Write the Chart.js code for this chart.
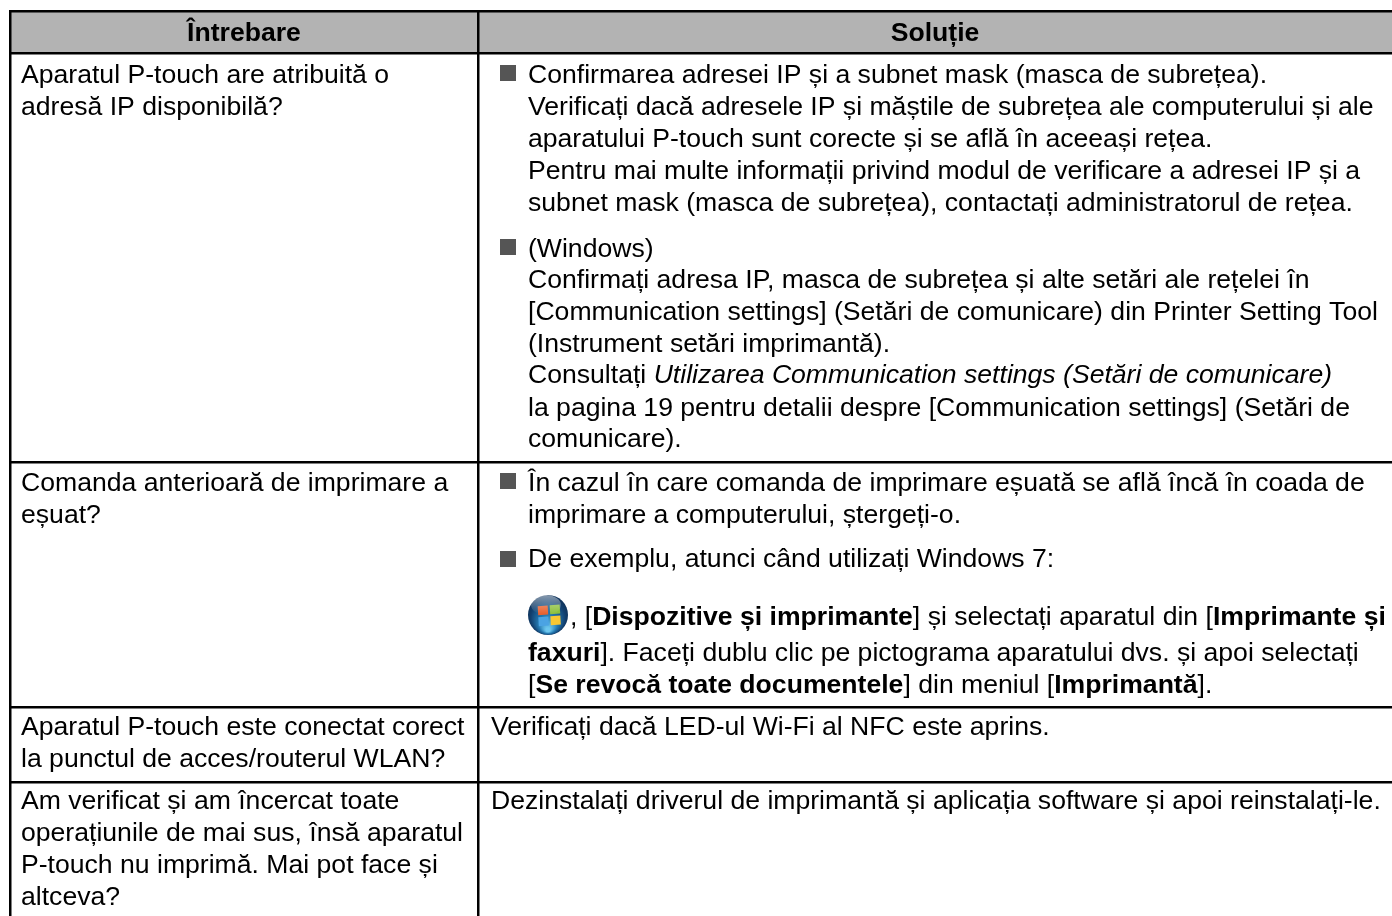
<!DOCTYPE html>
<html lang="ro">

<head>
    <meta charset="UTF-8">
    <title>Întrebare / Soluție</title>
    <style>
        html, body { margin: 0; padding: 0; background: #fff; overflow: hidden; }
        canvas { display: block; }
    </style>
</head>

<body>
    <canvas id="tableChart" width="1392" height="916"></canvas>

    <script src="https://cdn.jsdelivr.net/npm/chart.js@4/dist/chart.umd.min.js" charset="UTF-8"></script>
    <script>
        // table rules
        const columnEdges = [10, 478];
        const rowEdges = [11, 53, 462, 707, 782];

        const headers = ["Întrebare", "Soluție"];
        const headerX = [244, 935];
        const headerY = [41, 41];

        const questionLines = [
            "Aparatul P-touch are atribuită o",
            "adresă IP disponibilă?",
            "Comanda anterioară de imprimare a",
            "eșuat?",
            "Aparatul P-touch este conectat corect",
            "la punctul de acces/routerul WLAN?",
            "Am verificat și am încercat toate",
            "operațiunile de mai sus, însă aparatul",
            "P-touch nu imprimă. Mai pot face și",
            "altceva?"
        ];
        const questionY = [83, 115, 491, 523, 735, 767, 809, 841, 873, 905];

        // ** = bold, _ = italic
        const solutionLines = [
            "Confirmarea adresei IP și a subnet mask (masca de subrețea).",
            "Verificați dacă adresele IP și măștile de subrețea ale computerului și ale",
            "aparatului P-touch sunt corecte și se află în aceeași rețea.",
            "Pentru mai multe informații privind modul de verificare a adresei IP și a",
            "subnet mask (masca de subrețea), contactați administratorul de rețea.",
            "(Windows)",
            "Confirmați adresa IP, masca de subrețea și alte setări ale rețelei în",
            "[Communication settings] (Setări de comunicare) din Printer Setting Tool",
            "(Instrument setări imprimantă).",
            "Consultați _Utilizarea Communication settings (Setări de comunicare)_",
            "la pagina 19 pentru detalii despre [Communication settings] (Setări de",
            "comunicare).",
            "În cazul în care comanda de imprimare eșuată se află încă în coada de",
            "imprimare a computerului, ștergeți-o.",
            "De exemplu, atunci când utilizați Windows 7:",
            ", [**Dispozitive și imprimante**] și selectați aparatul din [**Imprimante și**",
            "**faxuri**]. Faceți dublu clic pe pictograma aparatului dvs. și apoi selectați",
            "[**Se revocă toate documentele**] din meniul [**Imprimantă**].",
            "Verificați dacă LED-ul Wi-Fi al NFC este aprins.",
            "Dezinstalați driverul de imprimantă și aplicația software și apoi reinstalați-le."
        ];
        const solutionX = [528, 528, 528, 528, 528, 528, 528, 528, 528, 528, 528, 528, 528, 528, 528, 570, 528, 528, 491, 491];
        const solutionY = [83, 115, 147, 179, 211, 257, 288, 320, 352, 383, 416, 447, 491, 523, 567, 625, 661, 693, 735, 809];

        const bulletX = [508, 508, 508, 508];
        const bulletY = [73, 247, 481, 559];
        const iconX = [548];
        const iconY = [615];
        const headerBandX = [10, 1392];
        const headerBandY = [53, 53];

        const bodyFont = '"Liberation Sans", Arial, sans-serif';
        const bodySize = 26.6;

        function makeOrb() {
            const c = document.createElement('canvas');
            c.width = 42;
            c.height = 42;
            const g = c.getContext('2d');
            const body = g.createRadialGradient(21, 36, 2, 21, 21, 21);
            body.addColorStop(0, '#6cc6ee');
            body.addColorStop(0.4, '#2378b0');
            body.addColorStop(0.8, '#12406f');
            body.addColorStop(1, '#0f3157');
            g.fillStyle = body;
            g.beginPath();
            g.arc(21, 21, 20, 0, Math.PI * 2);
            g.fill();
            // the four flag panes, slightly skewed
            g.save();
            g.transform(1, -0.08, 0.06, 1, 0, 2);
            const panes = [
                ['#e8612f', 10, 11, 10, 9],
                ['#8cc13c', 22, 11, 10, 9],
                ['#4ba3e3', 10, 22, 10, 9],
                ['#f7c733', 22, 22, 10, 9]
            ];
            panes.forEach(p => {
                g.fillStyle = p[0];
                g.fillRect(p[1], p[2], p[3], p[4]);
            });
            g.restore();
            const shine = g.createLinearGradient(0, 1, 0, 20);
            shine.addColorStop(0, 'rgba(255,255,255,0.5)');
            shine.addColorStop(1, 'rgba(255,255,255,0)');
            g.fillStyle = shine;
            g.beginPath();
            g.ellipse(19, 11, 15, 10, 0, 0, Math.PI * 2);
            g.fill();
            return c;
        }

        function drawRuns(ctx, line, x, y) {
            // split the line into plain / bold / italic pieces
            const parts = line.split(/(\*\*.*?\*\*|_.*?_)/).filter(s => s.length);
            let cx = x;
            parts.forEach(p => {
                let style = '';
                let s = p;
                if (p.startsWith('**')) { style = 'bold '; s = p.slice(2, -2); }
                else if (p.startsWith('_')) { style = 'italic '; s = p.slice(1, -1); }
                ctx.font = style + bodySize + 'px ' + bodyFont;
                ctx.fillText(s, cx, y);
                cx += ctx.measureText(s).width;
            });
        }

        const tableText = {
            id: 'tableText',
            afterDraw(chart) {
                const ctx = chart.ctx;
                const sx = chart.scales.x;
                const sy = chart.scales.y;
                ctx.save();
                ctx.fillStyle = '#000';
                ctx.textBaseline = 'alphabetic';
                ctx.textAlign = 'center';
                ctx.font = 'bold ' + bodySize + 'px ' + bodyFont;
                headers.forEach((h, i) => {
                    ctx.fillText(h, sx.getPixelForValue(headerX[i]), sy.getPixelForValue(headerY[i]));
                });
                ctx.textAlign = 'left';
                questionLines.forEach((t, i) => {
                    drawRuns(ctx, t, sx.getPixelForValue(21), sy.getPixelForValue(questionY[i]));
                });
                solutionLines.forEach((t, i) => {
                    drawRuns(ctx, t, sx.getPixelForValue(solutionX[i]), sy.getPixelForValue(solutionY[i]));
                });
                ctx.restore();
            }
        };

        const gridStyle = { color: '#000', lineWidth: 2.5, drawTicks: false, z: 1 };

        var ctx = document.getElementById('tableChart').getContext('2d');
        var tableChart = new Chart(ctx, {
            type: 'scatter',
            data: {
                datasets: [{
                    // grey header band
                    type: 'line',
                    data: headerBandX.map((x, i) => ({ x: x, y: headerBandY[i] })),
                    fill: { value: rowEdges[0] },
                    backgroundColor: '#b3b3b3',
                    borderWidth: 0,
                    pointRadius: 0
                }, {
                    data: bulletX.map((x, i) => ({ x: x, y: bulletY[i] })),
                    pointStyle: 'rect',
                    radius: 11.3,
                    backgroundColor: '#555',
                    borderWidth: 0
                }, {
                    data: iconX.map((x, i) => ({ x: x, y: iconY[i] })),
                    pointStyle: makeOrb()
                }]
            },
            options: {
                responsive: false,
                animation: false,
                events: [],
                layout: { autoPadding: false, padding: { top: 10, left: 9 } },
                plugins: { legend: { display: false }, tooltip: { enabled: false } },
                scales: {
                    x: {
                        type: 'linear',
                        min: 9,
                        max: 1392,
                        grid: gridStyle,
                        border: { display: false },
                        ticks: { display: false },
                        afterBuildTicks: axis => { axis.ticks = columnEdges.map(v => ({ value: v })); }
                    },
                    y: {
                        type: 'linear',
                        reverse: true,
                        min: 10,
                        max: 916,
                        grid: gridStyle,
                        border: { display: false },
                        ticks: { display: false },
                        afterBuildTicks: axis => { axis.ticks = rowEdges.map(v => ({ value: v })); }
                    }
                }
            },
            plugins: [tableText]
        });
    </script>
</body>

</html>
